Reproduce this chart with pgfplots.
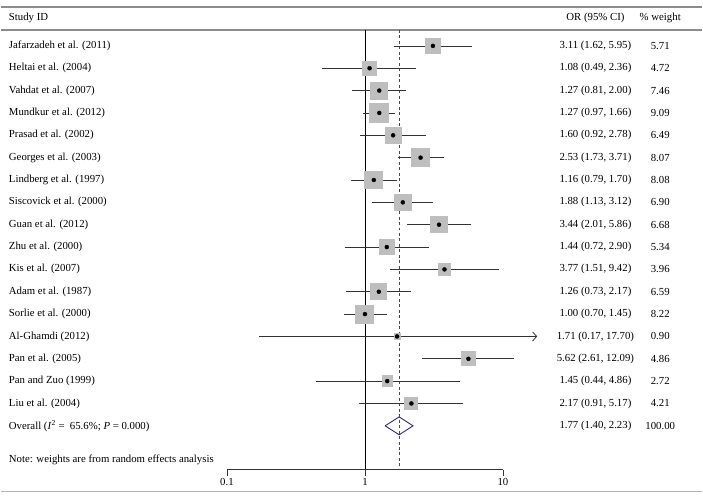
\documentclass[border=0pt]{standalone}
\usepackage{pgfplots}
\pgfplotsset{compat=1.18}
\usepackage{pgfplotstable}
\usepackage{fontspec}
\setmainfont{Liberation Serif}
\usetikzlibrary{arrows.meta}

\definecolor{boxgray}{HTML}{BEBEBE}
\definecolor{rulegray}{HTML}{8C8C8C}
\definecolor{lightrule}{HTML}{B4B4B4}
\definecolor{dashred}{HTML}{9B2335}
\definecolor{navy}{HTML}{2A2A85}
\definecolor{cigray}{HTML}{333333}

\pgfplotstableread{
row est lo hi w
1 3.11 1.62 5.95 5.71
2 1.08 0.49 2.36 4.72
3 1.27 0.81 2.00 7.46
4 1.27 0.97 1.66 9.09
5 1.60 0.92 2.78 6.49
6 2.53 1.73 3.71 8.07
7 1.16 0.79 1.70 8.08
8 1.88 1.13 3.12 6.90
9 3.44 2.01 5.86 6.68
10 1.44 0.72 2.90 5.34
11 3.77 1.51 9.42 3.96
12 1.26 0.73 2.17 6.59
13 1.00 0.70 1.45 8.22
14 1.71 0.17 17.70 0.90
15 5.62 2.61 12.09 4.86
16 1.45 0.44 4.86 2.72
17 2.17 0.91 5.17 4.21
}\studies

% x positions of the text columns (axis units, log axis)
\def\xname{0.002622}
\def\xor{46.8}
\def\xw{138.0}
\def\xL{0.002296}
\def\xR{277.97}

\newcommand{\ci}[3]{\addplot[cigray, line width=0.8pt] coordinates {(#1,#3) (#2,#3)};}
\newcommand{\rowtext}[4]{%
  \node[anchor=west] at (axis cs:\xname,#1) {#2};
  \node[anchor=center] at (axis cs:\xor,#1) {#3};
  \node[anchor=center] at (axis cs:\xw,#1) {#4};
}

\begin{document}
\begin{tikzpicture}[every node/.append style={font=\fontsize{10.8}{13}\selectfont, inner sep=0pt}]
\begin{axis}[
  scale only axis,
  width=703pt, height=503pt,
  xmode=log,
  xmin=0.002296, xmax=277.97,
  ymin=-1.054, ymax=21.402,
  y dir=reverse,
  hide axis,
  clip=false,
]
\path (axis cs:\xL,-1.054) rectangle (axis cs:\xR,21.402);

% header rules
\draw[rulegray, line width=1.6pt] (axis cs:\xL,-0.754) -- (axis cs:\xR,-0.754);
\draw[rulegray, line width=1.6pt] (axis cs:\xL,0.286) -- (axis cs:\xR,0.286);
\draw[lightrule, line width=1pt] (axis cs:\xL,20.95) -- (axis cs:\xR,20.95);

\node[anchor=west] at (axis cs:\xname,-0.25) {Study ID};
\node[anchor=center] at (axis cs:\xor,-0.25) {OR (95\% CI)};
\node[anchor=center] at (axis cs:\xw,-0.25) {\% weight};

% reference lines
\addplot[black, line width=0.9pt] coordinates {(1,0.286) (1,19.973)};
\addplot[dashred, line width=0.8pt, dash pattern=on 3pt off 2.5pt] coordinates {(1.77,0.286) (1.77,19.973)};

% weight boxes
\addplot[scatter, only marks, mark=square*,
  mark options={draw=boxgray, fill=boxgray, line width=0pt},
  scatter/use mapped color={draw=boxgray, fill=boxgray},
  visualization depends on={3.15*sqrt(\thisrow{w}) \as \msize},
  scatter/@pre marker code/.append style={/tikz/mark size=\msize}]
  table[x=est, y=row] {\studies};

% confidence intervals
\ci{1.62}{5.95}{1}
\ci{0.49}{2.36}{2}
\ci{0.81}{2.00}{3}
\ci{0.97}{1.66}{4}
\ci{0.92}{2.78}{5}
\ci{1.73}{3.71}{6}
\ci{0.79}{1.70}{7}
\ci{1.13}{3.12}{8}
\ci{2.01}{5.86}{9}
\ci{0.72}{2.90}{10}
\ci{1.51}{9.42}{11}
\ci{0.73}{2.17}{12}
\ci{0.70}{1.45}{13}
\addplot[cigray, line width=0.8pt, -{Straight Barb[length=4pt, width=9pt, line width=0.8pt]}] coordinates {(0.17,14) (17.70,14)};
\ci{2.61}{12.09}{15}
\ci{0.44}{4.86}{16}
\ci{0.91}{5.17}{17}

% point estimates
\addplot[only marks, mark=*, mark size=2pt, black] table[x=est, y=row] {\studies};

% overall diamond
\addplot[navy, line width=0.9pt] coordinates {(1.40,18) (1.77,17.6) (2.23,18) (1.77,18.4) (1.40,18)};

% x axis
\addplot[black!80, line width=0.9pt] coordinates {(0.1,19.973) (10,19.973)};
\addplot[black!80, line width=0.9pt] coordinates {(0.1,19.973) (0.1,20.24)};
\addplot[black!80, line width=0.9pt] coordinates {(1,19.973) (1,20.24)};
\addplot[black!80, line width=0.9pt] coordinates {(10,19.973) (10,20.24)};
\node at (axis cs:0.1,20.50) {0.1};
\node at (axis cs:1,20.50) {1};
\node at (axis cs:10,20.50) {10};

% text rows
\rowtext{1}{Jafarzadeh et al. (2011)}{3.11 (1.62, 5.95)}{5.71}
\rowtext{2}{Heltai et al. (2004)}{1.08 (0.49, 2.36)}{4.72}
\rowtext{3}{Vahdat et al. (2007)}{1.27 (0.81, 2.00)}{7.46}
\rowtext{4}{Mundkur et al. (2012)}{1.27 (0.97, 1.66)}{9.09}
\rowtext{5}{Prasad et al. (2002)}{1.60 (0.92, 2.78)}{6.49}
\rowtext{6}{Georges et al. (2003)}{2.53 (1.73, 3.71)}{8.07}
\rowtext{7}{Lindberg et al. (1997)}{1.16 (0.79, 1.70)}{8.08}
\rowtext{8}{Siscovick et al. (2000)}{1.88 (1.13, 3.12)}{6.90}
\rowtext{9}{Guan et al. (2012)}{3.44 (2.01, 5.86)}{6.68}
\rowtext{10}{Zhu et al. (2000)}{1.44 (0.72, 2.90)}{5.34}
\rowtext{11}{Kis et al. (2007)}{3.77 (1.51, 9.42)}{3.96}
\rowtext{12}{Adam et al. (1987)}{1.26 (0.73, 2.17)}{6.59}
\rowtext{13}{Sorlie et al. (2000)}{1.00 (0.70, 1.45)}{8.22}
\rowtext{14}{Al-Ghamdi (2012)}{1.71 (0.17, 17.70)}{0.90}
\rowtext{15}{Pan et al. (2005)}{5.62 (2.61, 12.09)}{4.86}
\rowtext{16}{Pan and Zuo (1999)}{1.45 (0.44, 4.86)}{2.72}
\rowtext{17}{Liu et al. (2004)}{2.17 (0.91, 5.17)}{4.21}
\rowtext{18}{Overall (\textit{I}\textsuperscript{2} =\ \ 65.6\%; \textit{P} = 0.000)}{1.77 (1.40, 2.23)}{100.00}

\node[anchor=west] at (axis cs:\xname,19.513) {Note: weights are from random effects analysis};
\end{axis}
\end{tikzpicture}
\end{document}
